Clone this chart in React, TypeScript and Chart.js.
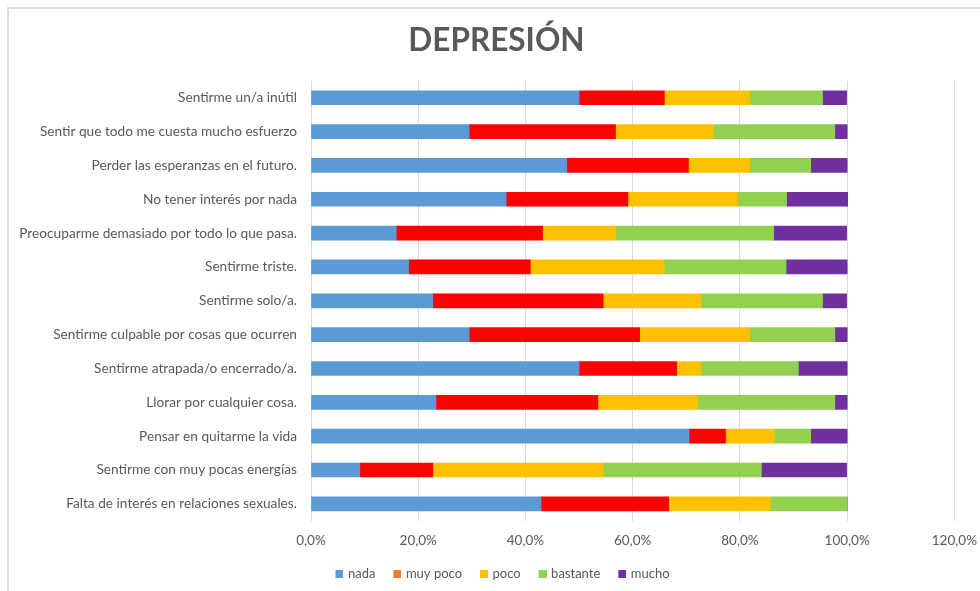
import React, { useEffect, useRef } from "react";
import { Chart, registerables } from "chart.js";

Chart.register(...registerables);

const categories = [
  "Sentirme un/a inútil",
  "Sentir que todo me cuesta mucho esfuerzo",
  "Perder las esperanzas en el futuro.",
  "No tener interés por nada",
  "Preocuparme demasiado por todo lo que pasa.",
  "Sentirme triste.",
  "Sentirme solo/a.",
  "Sentirme culpable por cosas que ocurren",
  "Sentirme atrapada/o encerrado/a.",
  "Llorar por cualquier cosa.",
  "Pensar en quitarme la vida",
  "Sentirme con muy pocas energías",
  "Falta de interés en relaciones sexuales.",
];

const nada = [50.0, 29.5, 47.7, 36.4, 15.9, 18.2, 22.7, 29.5, 50.0, 23.3, 70.5, 9.1, 42.9];
const muyPoco = [15.9, 27.3, 22.7, 22.7, 27.3, 22.7, 31.8, 31.8, 18.2, 30.2, 6.8, 13.6, 23.8];
const poco = [15.9, 18.2, 11.4, 20.5, 13.6, 25.0, 18.2, 20.5, 4.5, 18.6, 9.1, 31.8, 19.0];
const bastante = [13.6, 22.7, 11.4, 9.1, 29.5, 22.7, 22.7, 15.9, 18.2, 25.6, 6.8, 29.5, 14.3];
const mucho = [4.5, 2.3, 6.8, 11.4, 13.6, 11.4, 4.5, 2.3, 9.1, 2.3, 6.8, 15.9, 0];

const seriesNames = ["nada", "muy poco", "poco", "bastante", "mucho"];
const seriesValues = [nada, muyPoco, poco, bastante, mucho];
const barColors = ["#5B9BD5", "#FF0000", "#FFC000", "#92D050", "#7030A0"];
const legendColors = ["#5B9BD5", "#ED7D31", "#FFC000", "#92D050", "#7030A0"];

const xMin = 0;
const xMax = 120;
const xStep = 20;

const TEXT = "#595959";
const FONT = "Lato, 'Open Sans', sans-serif";

const CANVAS_W = 989;
const CANVAS_H = 590;
const PAD_LEFT = 4;

function makeSwatch(color: string): HTMLCanvasElement {
  const c = document.createElement("canvas");
  c.width = 22;
  c.height = 8;
  const g = c.getContext("2d")!;
  g.fillStyle = color;
  g.fillRect(14, 0, 8, 8);
  return c;
}

export default function App() {
  const ref = useRef<HTMLCanvasElement | null>(null);

  useEffect(() => {
    document.body.style.margin = "0";
    const swatches = legendColors.map(makeSwatch);
    const ctx = ref.current!;
    const chart = new Chart(ctx, {
      type: "bar",
      data: {
        labels: categories,
        datasets: seriesNames.map((name, i) => ({
          label: name,
          data: seriesValues[i],
          backgroundColor: barColors[i],
          borderWidth: 0,
          barThickness: 14,
        })),
      },
      options: {
        indexAxis: "y",
        animation: false,
        responsive: false,
        maintainAspectRatio: false,
        layout: { padding: { left: PAD_LEFT, right: 0, top: 0, bottom: 0 } },
        scales: {
          x: {
            stacked: true,
            min: xMin,
            max: xMax,
            ticks: {
              stepSize: xStep,
              padding: 12,
              color: TEXT,
              font: { family: FONT, size: 13.5 },
              callback: (v: any) => Number(v).toFixed(1).replace(".", ",") + "%",
            },
            grid: { color: "#D9D9D9", drawTicks: false, lineWidth: 1 },
            border: { display: false },
          },
          y: {
            stacked: true,
            afterFit: (scale: any) => {
              scale.width = 311 - PAD_LEFT;
            },
            ticks: {
              padding: 14,
              color: TEXT,
              font: { family: FONT, size: 13.7 },
            },
            grid: { display: false, drawTicks: false },
            border: { display: false },
          },
        },
        plugins: {
          title: {
            display: true,
            text: "DEPRESIÓN",
            color: TEXT,
            font: { family: FONT, size: 31.5, weight: "bold" },
            padding: { top: 22, bottom: 21 },
          },
          legend: {
            position: "bottom",
            labels: {
              usePointStyle: true,
              pointStyleWidth: 18,
              boxHeight: 8,
              padding: 6,
              color: TEXT,
              font: { family: FONT, size: 13 },
              generateLabels: (c: any) =>
                c.data.datasets.map((d: any, i: number) => ({
                  text: d.label,
                  fillStyle: legendColors[i],
                  strokeStyle: legendColors[i],
                  pointStyle: swatches[i],
                  lineWidth: 0,
                  hidden: false,
                  datasetIndex: i,
                  fontColor: TEXT,
                })),
            },
          },
          tooltip: { enabled: false },
        },
      },
    });
    return () => chart.destroy();
  }, []);

  return (
    <div style={{ position: "relative", width: 980, height: 591, background: "#fff", overflow: "hidden" }}>
      <div
        style={{
          position: "absolute",
          left: 7,
          top: 7,
          width: 990,
          height: 600,
          border: "2px solid #DCDCDC",
          boxSizing: "border-box",
        }}
      />
      <canvas
        ref={ref}
        width={CANVAS_W}
        height={CANVAS_H}
        style={{ position: "absolute", left: 0, top: 0 }}
      />
    </div>
  );
}
